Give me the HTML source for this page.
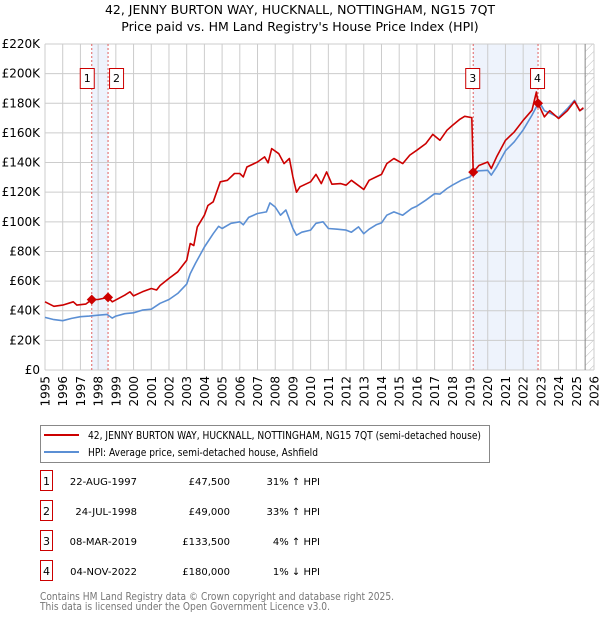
<!DOCTYPE html>
<html><head><meta charset="utf-8"><style>
body{margin:0;background:#fff;font-family:"DejaVu Sans","Liberation Sans",sans-serif;}
svg text{font-family:"DejaVu Sans","Liberation Sans",sans-serif;}
</style></head><body>
<svg id="chart" width="600" height="620" xmlns="http://www.w3.org/2000/svg">
<defs><pattern id="hatch" width="6" height="6" patternUnits="userSpaceOnUse" patternTransform="rotate(45)"><line x1="0" y1="0" x2="0" y2="6" stroke="#bbb" stroke-width="1"/></pattern></defs>
<text x="300" y="14" text-anchor="middle" font-size="12.5">42, JENNY BURTON WAY, HUCKNALL, NOTTINGHAM, NG15 7QT</text>
<text x="300" y="31" text-anchor="middle" font-size="12.5">Price paid vs. HM Land Registry's House Price Index (HPI)</text>
<g id="plot"></g>
<g id="legend">
<rect x="40.5" y="425.5" width="449" height="37" fill="#fff" stroke="#888"/>
<line x1="44" y1="435" x2="79" y2="435" stroke="#cc0000" stroke-width="2"/>
<text x="88" y="439" font-size="11" textLength="393" lengthAdjust="spacingAndGlyphs">42, JENNY BURTON WAY, HUCKNALL, NOTTINGHAM, NG15 7QT (semi-detached house)</text>
<line x1="44" y1="452" x2="79" y2="452" stroke="#5b8fd4" stroke-width="2"/>
<text x="88" y="456" font-size="11" textLength="230" lengthAdjust="spacingAndGlyphs">HPI: Average price, semi-detached house, Ashfield</text>
</g>
<g id="table" font-size="11"></g>
<text x="40" y="600" font-size="11" fill="#777" textLength="354" lengthAdjust="spacingAndGlyphs">Contains HM Land Registry data © Crown copyright and database right 2025.</text>
<text x="40" y="610" font-size="11" fill="#777" textLength="290" lengthAdjust="spacingAndGlyphs">This data is licensed under the Open Government Licence v3.0.</text>
</svg>
<script>
const hpiYears=[1995.0,1995.5,1996.0,1996.5,1997.0,1997.5,1998.0,1998.5,1998.8,1999.0,1999.5,2000.0,2000.5,2001.0,2001.5,2002.0,2002.5,2003.0,2003.2,2003.5,2004.0,2004.5,2004.8,2005.0,2005.5,2006.0,2006.2,2006.5,2007.0,2007.5,2007.7,2008.0,2008.3,2008.6,2009.0,2009.2,2009.5,2010.0,2010.3,2010.7,2011.0,2011.5,2012.0,2012.3,2012.7,2013.0,2013.3,2013.7,2014.0,2014.3,2014.7,2015.2,2015.7,2016.0,2016.5,2017.0,2017.3,2017.7,2018.0,2018.5,2019.0,2019.2,2019.5,2020.0,2020.2,2020.5,2021.0,2021.5,2022.0,2022.5,2022.9,2023.2,2023.5,2024.0,2024.5,2024.9,2025.2,2025.4];
const hpiValues=[35.5,34,33.3,34.8,36,36.4,37,37.5,35,36.4,38,38.6,40.4,41,45,47.6,51.7,58,65,72,83,92,97,95.5,99,100,98,103,105.6,106.7,112.8,110,104.5,108,95.5,91,93,94.4,99,100,95.5,95,94.4,93,96.6,92,95,98,99.3,104.5,106.7,104.5,109,110.6,114.6,119,118.7,122.5,124.7,128,130.3,133,134.4,134.8,131.5,137,148,154,162,172,181,175,173.5,170.3,176.4,182,175,176.4];
const priceYears=[1995.0,1995.5,1996.0,1996.6,1996.8,1997.3,1997.64,1998.0,1998.56,1998.8,1999.5,1999.8,2000.0,2000.5,2001.0,2001.3,2001.5,2002.0,2002.5,2003.0,2003.2,2003.4,2003.6,2004.0,2004.2,2004.5,2004.9,2005.3,2005.7,2006.0,2006.2,2006.4,2007.0,2007.4,2007.6,2007.8,2008.2,2008.5,2008.8,2009.0,2009.2,2009.4,2010.0,2010.3,2010.6,2010.9,2011.2,2011.7,2012.0,2012.3,2012.8,2013.0,2013.3,2013.7,2014.0,2014.3,2014.7,2015.2,2015.6,2016.0,2016.5,2016.9,2017.3,2017.7,2018.0,2018.4,2018.7,2019.1,2019.18,2019.5,2020.0,2020.2,2020.5,2021.0,2021.5,2022.0,2022.5,2022.75,2022.84,2023.2,2023.5,2024.0,2024.5,2024.9,2025.2,2025.4];
const priceValues=[46,43,43.8,46,43.8,44.5,47.5,47.6,49,46,50.5,52.8,50,52.8,55,54,57,61.8,66.3,74,85.4,84,96.6,104.5,111,113.5,127,128,132.6,132.6,130.3,137,140.4,143.8,139.8,149.4,146,139.3,142.7,130.3,120,123.6,127,132,125.8,133.7,125.4,125.8,124.7,128,123.6,121.8,128,130.3,132,139.3,142.7,139.3,145,148.3,152.8,159,155,161.8,165,169,171.2,170.3,133.5,138,140.4,136,143.8,155,160.7,168.5,175.3,187.6,180,170.8,175,169.7,175,181.3,175,177];
const saleYears=[1997.64,1998.56,2019.18,2022.84];
const saleValues=[47.5,49,133.5,180];
const saleLabels=["1","2","3","4"];
const saleDates=["22-AUG-1997","24-JUL-1998","08-MAR-2019","04-NOV-2022"];
const salePrices=["£47,500","£49,000","£133,500","£180,000"];
const saleHpi=["31% ↑ HPI","33% ↑ HPI","4% ↑ HPI","1% ↓ HPI"];
const yTicks=[0,20,40,60,80,100,120,140,160,180,200,220];
const xTicks=[1995,1996,1997,1998,1999,2000,2001,2002,2003,2004,2005,2006,2007,2008,2009,2010,2011,2012,2013,2014,2015,2016,2017,2018,2019,2020,2021,2022,2023,2024,2025,2026];

const NS="http://www.w3.org/2000/svg";
const L=45,R=594,T=44,B=370,x0=1995,x1=2026,yMax=220;
const X=v=>L+(v-x0)/(x1-x0)*(R-L);
const Y=v=>B-v/yMax*(B-T);
function mk(tag,attrs,parent){const e=document.createElementNS(NS,tag);for(const k in attrs)e.setAttribute(k,attrs[k]);parent.appendChild(e);return e;}
const plot=document.getElementById('plot');
[[0,1],[2,3]].forEach(p=>{
 const r=mk('rect',{x:X(saleYears[p[0]]),y:T,width:X(saleYears[p[1]])-X(saleYears[p[0]]),height:B-T,fill:'#eef3fc'},plot);
 
 
});
const hz=mk('rect',{x:X(2025.5),y:T,width:R-X(2025.5),height:B-T,fill:'url(#hatch)'},plot);


yTicks.forEach(t=>{
 const g=mk('line',{x1:L,x2:R,y1:Y(t),y2:Y(t),stroke:'#cccccc','stroke-width':1},plot);
 
 
 const tx=mk('text',{x:L-5,y:Y(t)+4,'text-anchor':'end','font-size':12},plot);
 tx.textContent=t===0?'£0':'£'+t+'K';
 
 
});
xTicks.forEach(t=>{
 const g=mk('line',{x1:X(t),x2:X(t),y1:T,y2:B,stroke:'#cccccc','stroke-width':1},plot);
 
 
 const tx=mk('text',{x:0,y:0,'text-anchor':'end','font-size':12,transform:`translate(${X(t)+4.5},376) rotate(-90)`},plot);
 tx.textContent=t;
 
 
});
const vl=mk('line',{x1:X(2025.5),x2:X(2025.5),y1:T,y2:B,stroke:'#888','stroke-width':1},plot);


saleYears.forEach((s,i)=>{
 const l=mk('line',{x1:X(s),x2:X(s),y1:T,y2:B,stroke:'#e06060','stroke-width':1,'stroke-dasharray':'2,2'},plot);
 
 
});
function path(xs,ys,color,name){
 const d=xs.map((v,i)=>(i?'L':'M')+X(v).toFixed(1)+','+Y(ys[i]).toFixed(1)).join('');
 const p=mk('path',{d:d,fill:'none',stroke:color,'stroke-width':1.6,'stroke-linejoin':'round'},plot);
 
 
}
path(hpiYears,hpiValues,'#5b8fd4','hpi-line');
path(priceYears,priceValues,'#cc0000','price-line');
saleYears.forEach((s,i)=>{
 const cx=X(s),cy=Y(saleValues[i]);
 const d=mk('polygon',{points:`${cx},${cy-5} ${cx+5},${cy} ${cx},${cy+5} ${cx-5},${cy}`,fill:'#cc0000'},plot);
 
 
 const bx=i===0?cx-11:(i===1?cx+2:cx-7);
 const r=mk('rect',{x:bx-0.5,y:68.5,width:14,height:20,fill:'#fff',stroke:'#cc0000'},plot);
 
 
 const t=mk('text',{x:bx+6.5,y:82,'text-anchor':'middle','font-size':11},plot);
 t.textContent=saleLabels[i];
 
 
});
const tb=document.getElementById('table');
saleLabels.forEach((s,i)=>{
 const y=483+i*30;
 const r=mk('rect',{x:40.5,y:y-12.5,width:12,height:20,fill:'#fff',stroke:'#cc0000'},tb);
 
 
 const a=mk('text',{x:46.5,y:y+2,'text-anchor':'middle'},tb);a.textContent=s;
 
 
 const b=mk('text',{x:137,y:y+2,'text-anchor':'end','font-size':10},tb);b.textContent=saleDates[i];
 
 
 const c=mk('text',{x:230,y:y+2,'text-anchor':'end','font-size':10},tb);c.textContent=salePrices[i];
 
 
 const e=mk('text',{x:320,y:y+2,'text-anchor':'end','font-size':10},tb);e.textContent=saleHpi[i];
 
 
});
</script>
</body></html>
